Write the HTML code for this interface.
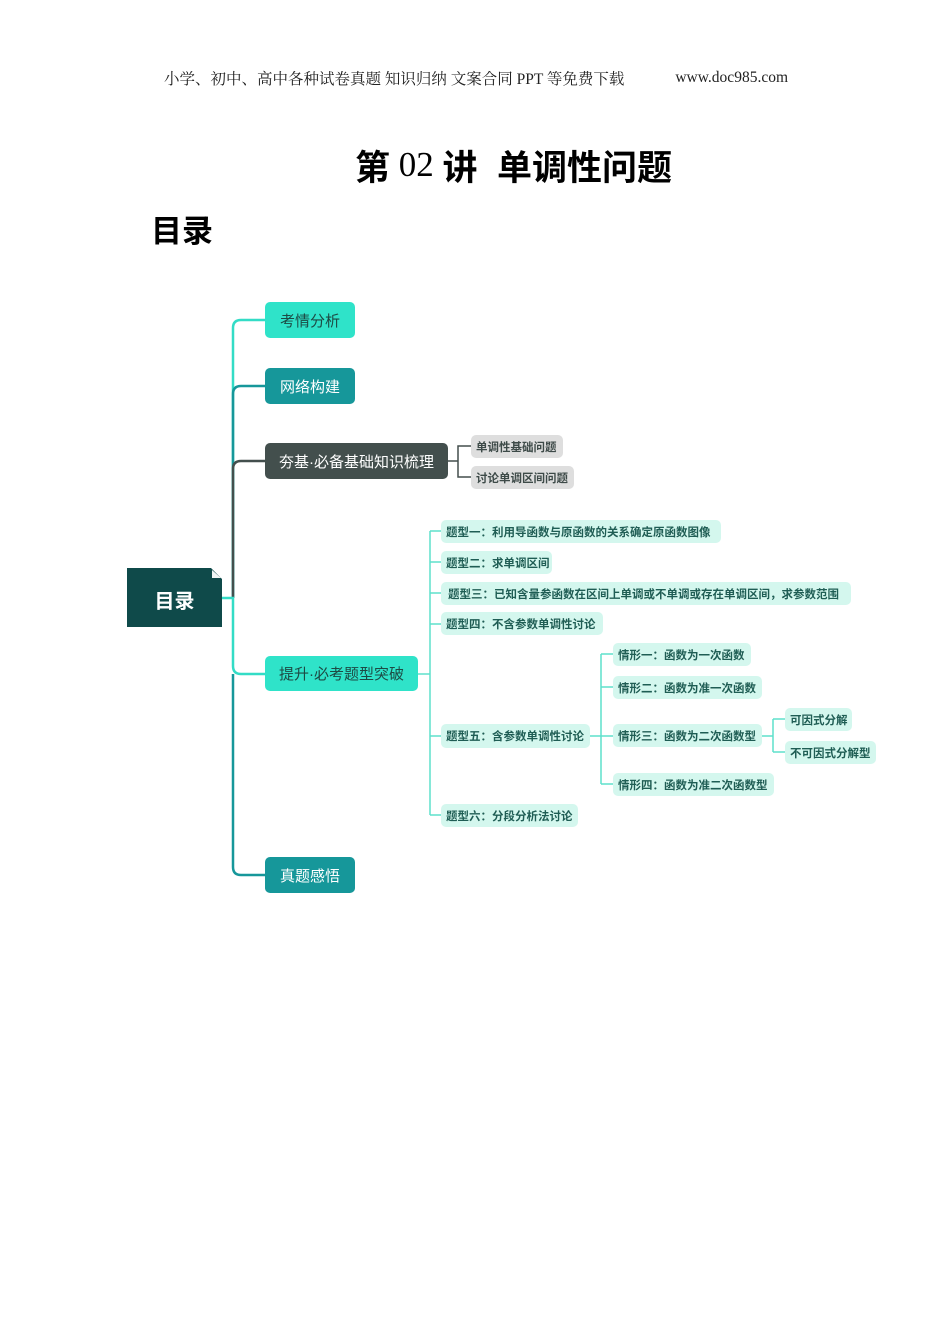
<!DOCTYPE html>
<html><head><meta charset="utf-8"><style>
body{margin:0;width:950px;height:1344px;background:#fff;position:relative;overflow:hidden;font-family:"Liberation Sans","Noto Sans CJK SC",sans-serif;}
.a{position:absolute;display:flex;align-items:center;justify-content:center;white-space:nowrap;box-sizing:border-box;}
.n{border-radius:5px;font-size:15px;}
.l{background:#d4f7ee;color:#1f5d54;font-size:11.5px;font-weight:bold;border-radius:5px;justify-content:flex-start;padding-left:5px;}
.g{background:#dedede;color:#3d4a48;font-size:11.5px;font-weight:bold;border-radius:5px;justify-content:flex-start;padding-left:5px;}
</style></head><body>
<div class="a" style="left:164px;width:624px;top:68px;height:20px;font-family:'Liberation Serif','Noto Serif CJK SC',serif;font-size:15.5px;color:#222;justify-content:space-between;"><span>小学、初中、高中各种试卷真题&nbsp;知识归纳&nbsp;文案合同&nbsp;PPT 等免费下载</span><span>www.doc985.com</span></div>
<div class="a" style="left:355px;top:143px;height:44px;font-size:35px;font-weight:bold;color:#000;"><span>第</span><span style="font-family:'Liberation Serif',serif;font-weight:normal;">&nbsp;02&nbsp;</span><span>讲&nbsp;&nbsp;单调性问题</span></div>
<div class="a" style="left:151px;top:208px;height:40px;font-size:31px;font-weight:bold;color:#000;">目录</div>

<svg style="position:absolute;left:0;top:0" width="950" height="1344">
<g fill="none" stroke-width="2.5">
<path d="M265 320 H241 Q233 320 233 328 V598" stroke="#33dcc6"/>
<path d="M265 386 H241 Q233 386 233 394 V598" stroke="#16979a"/>
<path d="M265 461 H241 Q233 461 233 469 V598" stroke="#434f4d"/>
<path d="M222 598 H233 V666 Q233 674 241 674 H265" stroke="#33dcc6"/>
<path d="M233 674 V867 Q233 875 241 875 H265" stroke="#16979a"/>
</g>
<g fill="none" stroke="#434f4d" stroke-width="1.5">
<path d="M448 461 H458 M458 461 V446 H471 M458 461 V477 H471"/>
</g>
<g fill="none" stroke="#5ee0cc" stroke-width="1.5">
<path d="M418 674 H430 M430 531 V815 M430 531 H441 M430 562 H441 M430 593 H441 M430 624 H441 M430 736 H441 M430 815 H441"/>
<path d="M590 736 H613 M601 654 V784 M601 654 H613 M601 687 H613 M601 784 H613"/>
<path d="M762 736 H773 M773 719 V752 M773 719 H785 M773 752 H785"/>
</g>
<path d="M127 568 H211 L222 579 V627 H127 Z" fill="#0f4a4a"/>
<path d="M212 570 L221 578 H212 Z" fill="#f2f6f6"/>
</svg>
<div class="a" style="left:127px;top:578px;width:95px;height:42px;color:#fff;font-size:20px;font-weight:bold;">目录</div>

<div class="a n" style="left:265px;top:302px;width:90px;height:36px;background:#2fe3c9;color:#1d4a44;">考情分析</div>
<div class="a n" style="left:265px;top:368px;width:90px;height:36px;background:#16979a;color:#fff;">网络构建</div>
<div class="a n" style="left:265px;top:443px;width:183px;height:36px;background:#434f4d;color:#fff;">夯基·必备基础知识梳理</div>
<div class="a n" style="left:265px;top:656px;width:153px;height:35px;background:#2fe3c9;color:#1d4a44;">提升·必考题型突破</div>
<div class="a n" style="left:265px;top:857px;width:90px;height:36px;background:#16979a;color:#fff;">真题感悟</div>

<div class="a g" style="left:471px;top:435px;width:92px;height:23px;">单调性基础问题</div>
<div class="a g" style="left:471px;top:466px;width:103px;height:23px;">讨论单调区间问题</div>

<div class="a l" style="left:441px;top:520px;width:280px;height:23px;">题型一：利用导函数与原函数的关系确定原函数图像</div>
<div class="a l" style="left:441px;top:551px;width:111px;height:23px;">题型二：求单调区间</div>
<div class="a l" style="left:441px;top:582px;width:410px;height:23px;padding-left:7px;">题型三：已知含量参函数在区间上单调或不单调或存在单调区间，求参数范围</div>
<div class="a l" style="left:441px;top:612px;width:162px;height:23px;">题型四：不含参数单调性讨论</div>
<div class="a l" style="left:441px;top:724px;width:149px;height:24px;">题型五：含参数单调性讨论</div>
<div class="a l" style="left:441px;top:804px;width:137px;height:23px;">题型六：分段分析法讨论</div>

<div class="a l" style="left:613px;top:643px;width:138px;height:23px;">情形一：函数为一次函数</div>
<div class="a l" style="left:613px;top:676px;width:149px;height:23px;">情形二：函数为准一次函数</div>
<div class="a l" style="left:613px;top:724px;width:149px;height:23px;">情形三：函数为二次函数型</div>
<div class="a l" style="left:613px;top:773px;width:161px;height:23px;">情形四：函数为准二次函数型</div>

<div class="a l" style="left:785px;top:708px;width:67px;height:23px;">可因式分解</div>
<div class="a l" style="left:785px;top:741px;width:91px;height:23px;">不可因式分解型</div>
</body></html>
